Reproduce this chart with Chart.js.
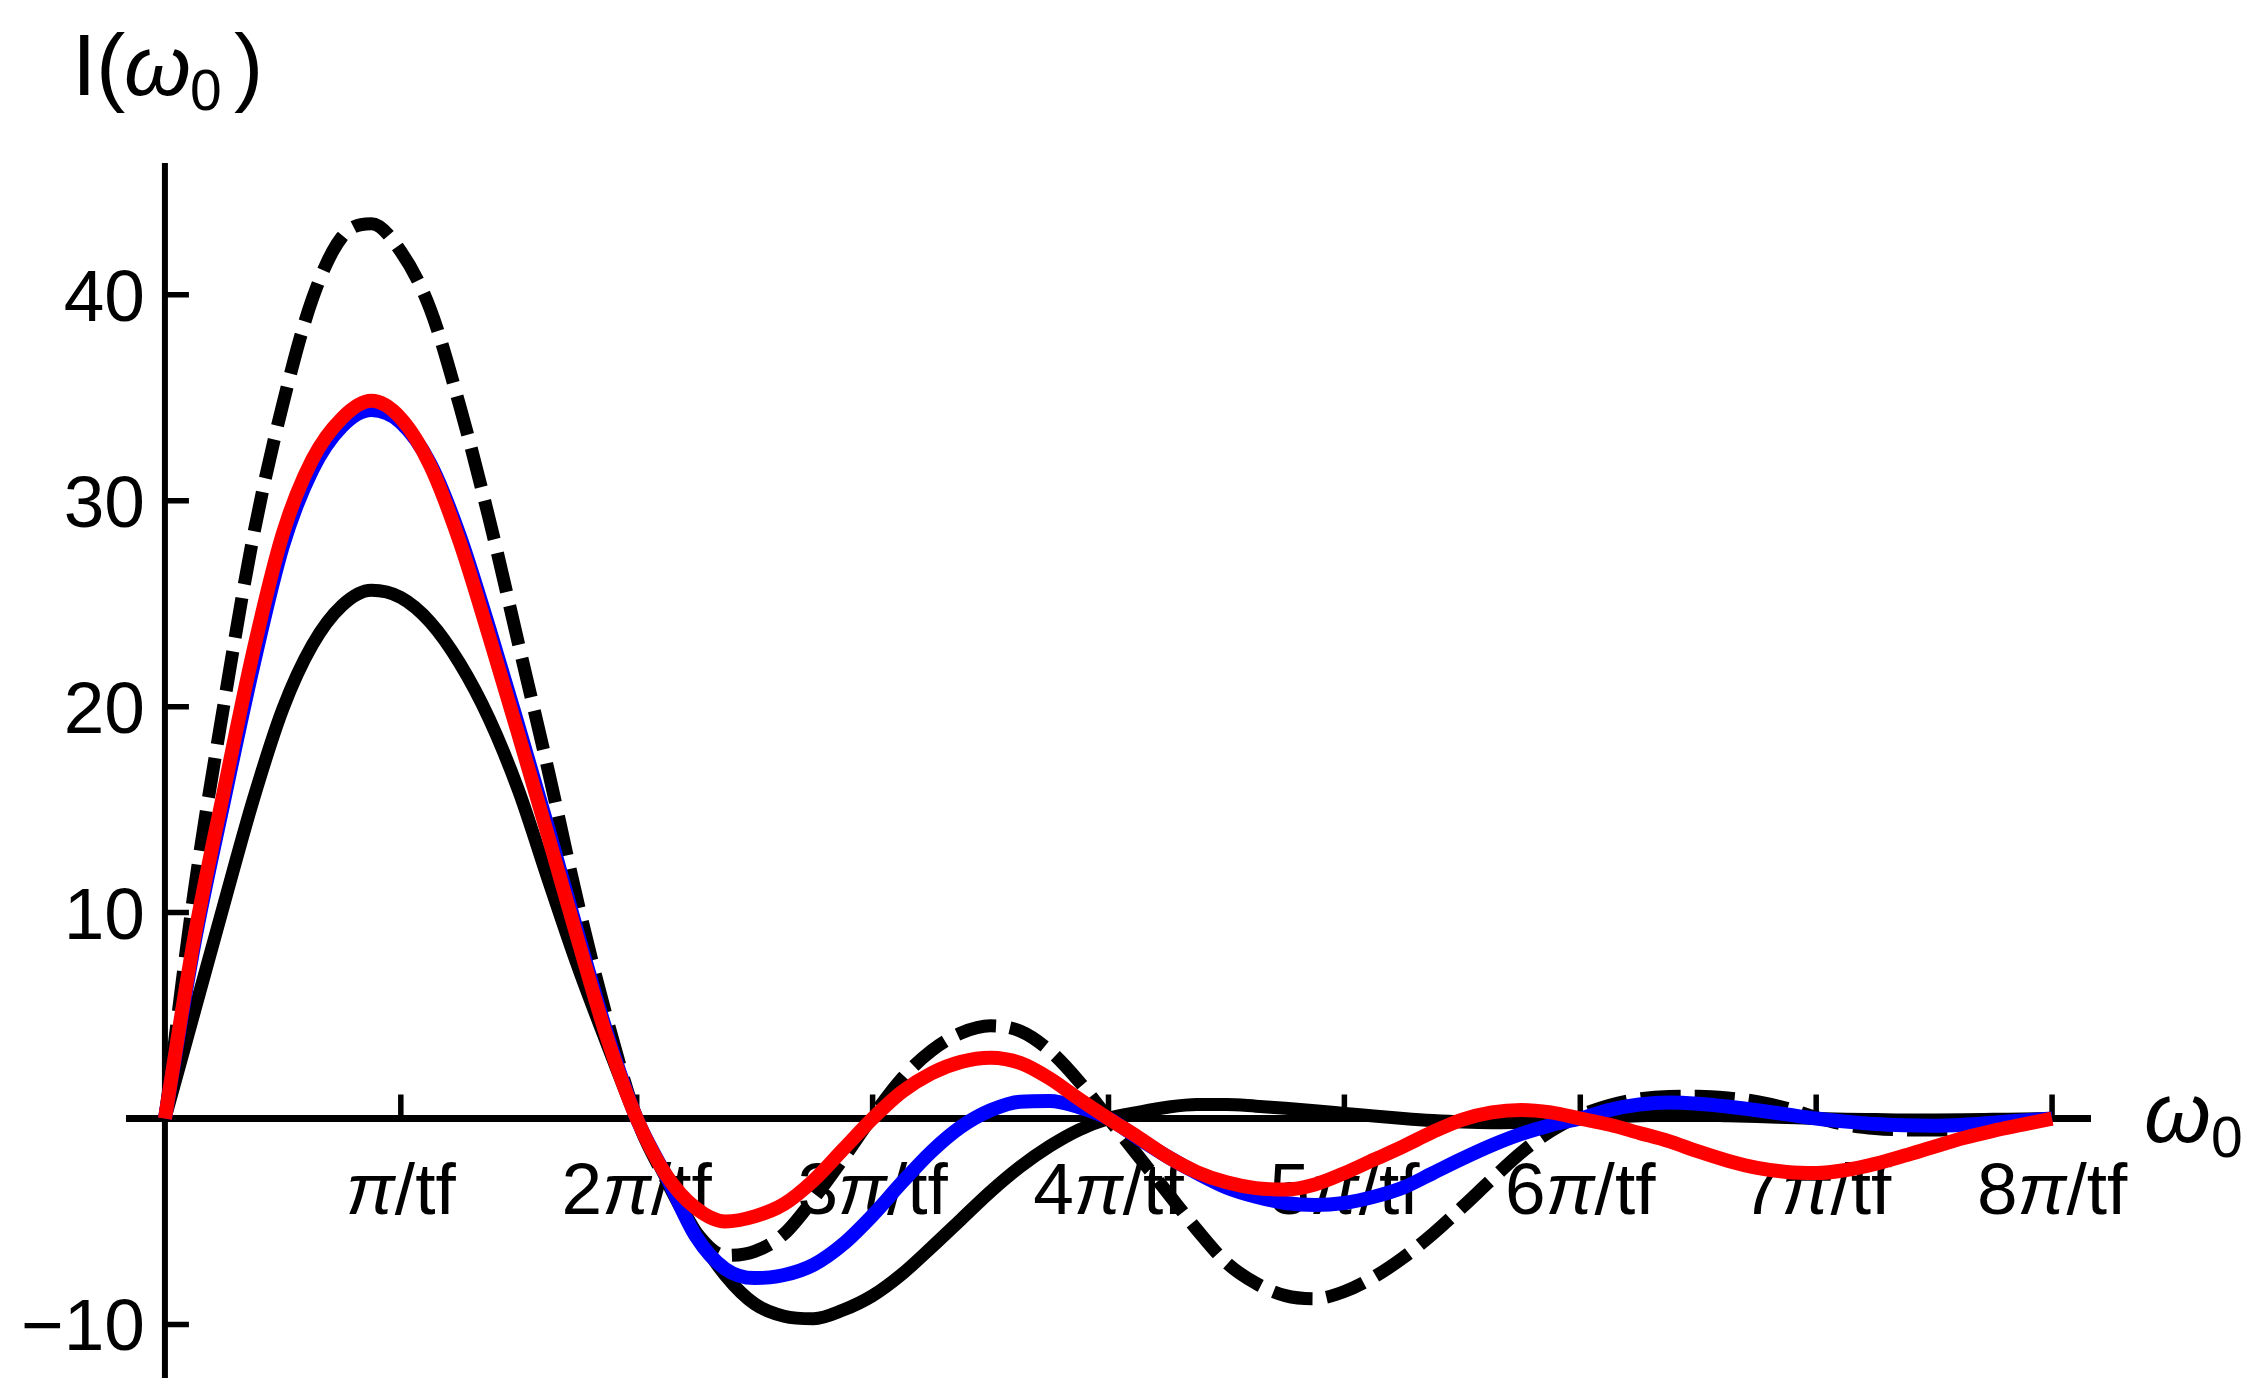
<!DOCTYPE html>
<html>
<head>
<meta charset="utf-8">
<title>I(ω0)</title>
<script src="https://cdn.jsdelivr.net/npm/chart.js@4.4.1/dist/chart.umd.min.js"></script>
<style>
  html, body { margin: 0; padding: 0; background: #fff; }
  #chart { display: block; }
</style>
</head>
<body>
<canvas id="chart" width="2255" height="1397"></canvas>
<script>
// omega_0 in eenheden van pi/tf (stap 1/8)
const omega = [
  0, 0.125, 0.25, 0.375, 0.5, 0.625, 0.75, 0.875,
  1, 1.125, 1.25, 1.375, 1.5, 1.625, 1.75, 1.875,
  2, 2.125, 2.25, 2.375, 2.5, 2.625, 2.75, 2.875,
  3, 3.125, 3.25, 3.375, 3.5, 3.625, 3.75, 3.875,
  4, 4.125, 4.25, 4.375, 4.5, 4.625, 4.75, 4.875,
  5, 5.125, 5.25, 5.375, 5.5, 5.625, 5.75, 5.875,
  6, 6.125, 6.25, 6.375, 6.5, 6.625, 6.75, 6.875,
  7, 7.125, 7.25, 7.375, 7.5, 7.625, 7.75, 7.875,
  8
];

// zwarte doorgetrokken lijn
const blackSolid = [
  0, 5.2, 10.4, 15.5, 19.9, 23.0, 24.9, 25.65,
  25.3, 24.1, 22.1, 19.4, 15.9, 11.6, 7.4, 3.6,
  0, -2.9, -5.5, -7.6, -9.0, -9.6, -9.72, -9.3,
  -8.6, -7.55, -6.25, -4.9, -3.55, -2.35, -1.35, -0.55,
  0, 0.3, 0.55, 0.68, 0.68, 0.6, 0.5, 0.38,
  0.25, 0.12, 0.0, -0.1, -0.17, -0.2, -0.18, -0.1,
  0, 0.08, 0.14, 0.17, 0.17, 0.14, 0.1, 0.05,
  0, -0.03, -0.05, -0.07, -0.07, -0.06, -0.04, -0.02,
  0
];

// zwarte gestreepte lijn
const blackDashed = [
  0, 11.1, 20.1, 28.3, 34.7, 39.8, 42.8, 43.45,
  42.1, 39.3, 34.6, 29.1, 23.0, 16.9, 10.5, 4.8,
  0, -3.0, -5.5, -6.65, -6.45, -5.6, -3.9, -1.95,
  0.1, 1.95, 3.3, 4.15, 4.5, 4.25, 3.3, 1.8,
  0, -1.8, -3.6, -5.4, -7.0, -8.0, -8.6, -8.75,
  -8.4, -7.7, -6.75, -5.6, -4.3, -2.95, -1.65, -0.6,
  0.15, 0.65, 0.95, 1.07, 1.08, 1.0, 0.82, 0.5,
  0.05, -0.3, -0.48, -0.55, -0.56, -0.48, -0.33, -0.15,
  0
];

// blauwe lijn
const blue = [
  0, 8.5, 15.4, 22.0, 27.8, 31.5, 33.6, 34.4,
  33.8, 31.8, 28.3, 23.8, 19.0, 14.1, 9.0, 4.1,
  0, -2.8, -5.7, -7.3, -7.75, -7.6, -7.1, -6.1,
  -4.7, -3.1, -1.6, -0.4, 0.4, 0.82, 0.85, 0.55,
  0, -0.95, -1.85, -2.65, -3.35, -3.8, -4.1, -4.2,
  -4.1, -3.8, -3.35, -2.65, -1.95, -1.3, -0.75, -0.32,
  0, 0.42, 0.68, 0.78, 0.72, 0.58, 0.4, 0.2,
  0, -0.15, -0.27, -0.33, -0.35, -0.3, -0.2, -0.1,
  0
];

// rode lijn
const red = [
  0, 8.8, 15.9, 22.7, 28.4, 32.0, 34.0, 34.85,
  34.0, 31.7, 28.0, 23.4, 18.6, 13.7, 8.7, 3.9,
  0, -2.75, -4.35, -5.0, -4.75, -4.15, -3.0, -1.5,
  0, 1.3, 2.2, 2.75, 2.95, 2.7, 1.95, 0.95,
  0, -0.9, -1.85, -2.6, -3.1, -3.38, -3.45, -3.2,
  -2.65, -2.0, -1.35, -0.65, -0.05, 0.3, 0.42, 0.3,
  0, -0.3, -0.7, -1.1, -1.6, -2.05, -2.4, -2.6,
  -2.65, -2.5, -2.2, -1.8, -1.37, -0.95, -0.6, -0.3,
  0
];

// as verdeling
const xTicks = [1, 2, 3, 4, 5, 6, 7, 8];
const xTickPrefix = ["", "2", "3", "4", "5", "6", "7", "8"];
const yTicks = [-10, 10, 20, 30, 40];
const yTickLabels = ["\u221210", "10", "20", "30", "40"];

const FONT = '"Liberation Sans", Arial, sans-serif';

function toPoints(values) {
  return omega.map((w, i) => ({ x: w, y: values[i] }));
}

// tekent de assen door de oorsprong, ticks naar binnen
const axesPlugin = {
  id: "originAxes",
  beforeDatasetsDraw(chart) {
    const { ctx, chartArea, scales } = chart;
    const xs = scales.x, ys = scales.y;
    const x0 = xs.getPixelForValue(0);
    const y0 = ys.getPixelForValue(0);
    ctx.save();
    ctx.strokeStyle = "#000";
    ctx.fillStyle = "#000";
    ctx.lineCap = "butt";

    // assen
    ctx.lineWidth = 6;
    ctx.beginPath();
    ctx.moveTo(x0, chartArea.top);
    ctx.lineTo(x0, chartArea.bottom);
    ctx.stroke();
    ctx.lineWidth = 7;
    ctx.beginPath();
    ctx.moveTo(chartArea.left, y0);
    ctx.lineTo(chartArea.right, y0);
    ctx.stroke();

    // ticks
    ctx.lineWidth = 5.5;
    ctx.beginPath();
    xTicks.forEach(v => {
      const px = xs.getPixelForValue(v);
      ctx.moveTo(px, y0);
      ctx.lineTo(px, y0 - 24);
    });
    yTicks.forEach(v => {
      const py = ys.getPixelForValue(v);
      ctx.moveTo(x0, py);
      ctx.lineTo(x0 + 24, py);
    });
    ctx.stroke();

    // y labels
    ctx.font = "73px " + FONT;
    ctx.textAlign = "right";
    ctx.textBaseline = "alphabetic";
    yTicks.forEach((v, i) => {
      ctx.fillText(yTickLabels[i], x0 - 20, ys.getPixelForValue(v) + 26);
    });

    // x labels: "kπ/tf" met cursieve pi
    const regular = "73px " + FONT;
    const italic = "italic 73px " + FONT;
    ctx.textAlign = "left";
    xTicks.forEach((v, i) => {
      const parts = [
        [xTickPrefix[i], regular],
        ["\u03c0", italic],
        ["/tf", regular]
      ];
      let total = 0;
      parts.forEach(p => { ctx.font = p[1]; total += ctx.measureText(p[0]).width; });
      let px = xs.getPixelForValue(v) - total / 2;
      const base = y0 + 95;
      parts.forEach(p => {
        ctx.font = p[1];
        ctx.fillText(p[0], px, base);
        px += ctx.measureText(p[0]).width;
      });
    });

    // as titels
    ctx.font = "88px " + FONT;
    ctx.fillText("I", 72, 95);
    ctx.fillText("(", 96, 95);
    ctx.fillText(")", 234, 95);
    ctx.font = "italic 86px " + FONT;
    ctx.fillText("\u03c9", 124, 95);
    ctx.font = "57px " + FONT;
    ctx.fillText("0", 190, 110);

    ctx.font = "italic 86px " + FONT;
    ctx.fillText("\u03c9", 2144, 1142);
    ctx.font = "57px " + FONT;
    ctx.fillText("0", 2211, 1157);

    ctx.restore();
  }
};

const ctx = document.getElementById("chart").getContext("2d");
const chart = new Chart(ctx, {
  type: "line",
  data: {
    datasets: [{
      label: "rood",
      data: toPoints(red),
      borderColor: "rgb(255, 0, 0)",
      borderWidth: 14,
      order: 0
    }, {
      label: "blauw",
      data: toPoints(blue),
      borderColor: "rgb(0, 0, 255)",
      borderWidth: 14,
      order: 1
    }, {
      label: "zwart gestreept",
      data: toPoints(blackDashed),
      borderColor: "rgb(0, 0, 0)",
      borderWidth: 13,
      borderDash: [40, 14],
      order: 2
    }, {
      label: "zwart",
      data: toPoints(blackSolid),
      borderColor: "rgb(0, 0, 0)",
      borderWidth: 13,
      order: 3
    }]
  },
  options: {
    responsive: false,
    devicePixelRatio: 1,
    animation: false,
    layout: { padding: { left: 126, right: 164, top: 163, bottom: 19 } },
    elements: {
      point: { radius: 0 },
      line: { cubicInterpolationMode: "monotone", fill: false, borderCapStyle: "butt", borderJoinStyle: "round" }
    },
    plugins: {
      legend: { display: false },
      tooltip: { enabled: false }
    },
    scales: {
      x: { type: "linear", min: -0.165, max: 8.165, display: false },
      y: { type: "linear", min: -12.6, max: 46.4, display: false }
    }
  },
  plugins: [axesPlugin]
});
</script>
</body>
</html>
